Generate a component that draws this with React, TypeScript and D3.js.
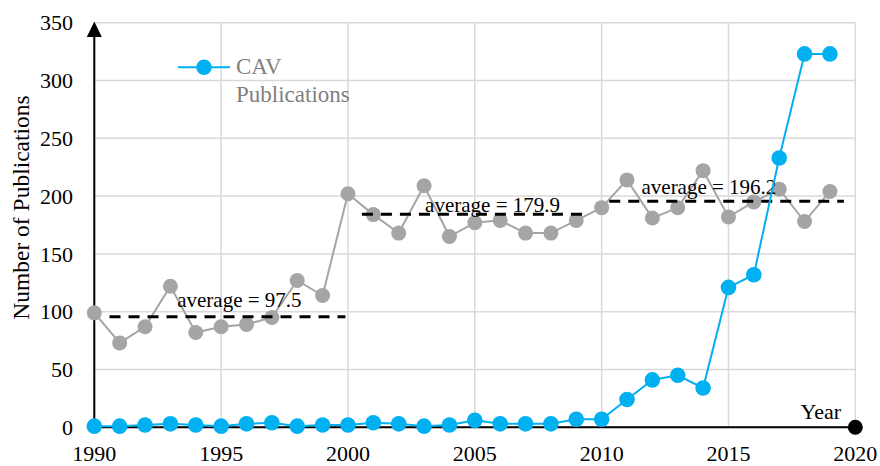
import React from "react";
import * as d3 from "d3";

const years = d3.range(1990, 2020);
const totalPubs = [99, 73, 87, 122, 82, 87, 89, 95, 127, 114, 202, 184, 168, 209, 165, 177, 179, 168, 168, 179, 190, 214, 181, 190, 222, 182, 195, 206, 178, 204];
const cavPubs = [1, 1, 2, 3, 2, 1, 3, 4, 1, 2, 2, 4, 3, 1, 2, 6, 3, 3, 3, 7, 7, 24, 41, 45, 34, 121, 132, 233, 323, 323];
const xTicks = [1990, 1995, 2000, 2005, 2010, 2015, 2020];
const yTicks = [0, 50, 100, 150, 200, 250, 300, 350];
const avgLabels = ["average = 97.5", "average = 179.9", "average = 196.2"];
const avgLevels = [95.7, 184.3, 195.5];
const avgStarts = [1990.6, 2000.55, 2010.3];
const avgEnds = [1999.9, 2009.5, 2019.55];
const avgLabelX = [1995.72, 2005.7, 2014.23];
const avgLabelY = [104.3, 186.5, 201.8];

const W = 880;
const H = 466;
const FONT = "'Liberation Serif', 'Times New Roman', serif";

export default function App() {
  const x = d3.scaleLinear().domain([1990, 2020]).range([94.3, 855.3]);
  const y = d3.scaleLinear().domain([0, 350]).range([427.3, 22.7]);
  const line = d3
    .line<number>()
    .x((_, i) => x(years[i]))
    .y((d) => y(d));

  return (
    <svg width={W} height={H} style={{ position: "absolute", left: 0, top: 0, background: "#fff", fontFamily: FONT }}>
      {/* grid */}
      {yTicks.map((t) => (
        <line key={"gy" + t} x1={x(1990)} x2={x(2020)} y1={y(t)} y2={y(t)} stroke="#d9d9d9" strokeWidth={1.5} />
      ))}
      {xTicks.map((t) => (
        <line key={"gx" + t} x1={x(t)} x2={x(t)} y1={y(0)} y2={y(350)} stroke="#d9d9d9" strokeWidth={1.5} />
      ))}
      {/* y tick labels */}
      {yTicks.map((t) => (
        <text key={"ty" + t} x={73} y={y(t)} dy="0.35em" textAnchor="end" fontSize={22} fill="#000">
          {t}
        </text>
      ))}
      {/* x tick labels */}
      {xTicks.map((t) => (
        <text key={"tx" + t} x={x(t)} y={461} textAnchor="middle" fontSize={22} fill="#000">
          {t}
        </text>
      ))}
      {/* axes */}
      <line x1={x(1990)} x2={x(1990)} y1={y(0)} y2={36} stroke="#000" strokeWidth={2} />
      <path d={`M${x(1990) - 7.5},${37} L${x(1990) + 7.5},${37} L${x(1990)},${21.5} Z`} fill="#000" />
      <line x1={x(1990)} x2={x(2020)} y1={y(0)} y2={y(0)} stroke="#000" strokeWidth={2} />
      <circle cx={x(2020)} cy={y(0)} r={7.5} fill="#000" />
      <text x={841} y={419} textAnchor="end" fontSize={22} fill="#000">
        Year
      </text>
      <text transform={`translate(29,${207.5}) rotate(-90)`} textAnchor="middle" fontSize={23.5} fill="#000">
        Number of Publications
      </text>
      {/* total series */}
      <path d={line(totalPubs) || ""} fill="none" stroke="#a5a5a5" strokeWidth={2} />
      {totalPubs.map((v, i) => (
        <circle key={"g" + i} cx={x(years[i])} cy={y(v)} r={7.5} fill="#a5a5a5" />
      ))}
      {/* averages */}
      {avgLevels.map((v, i) => (
        <line
          key={"a" + i}
          x1={x(avgStarts[i])}
          x2={x(avgEnds[i])}
          y1={y(v)}
          y2={y(v)}
          stroke="#000"
          strokeWidth={3}
          strokeDasharray="11 8"
        />
      ))}
      {avgLabels.map((s, i) => (
        <text key={"al" + i} x={x(avgLabelX[i])} y={y(avgLabelY[i])} textAnchor="middle" fontSize={21} fill="#000">
          {s}
        </text>
      ))}
      {/* CAV series */}
      <path d={line(cavPubs) || ""} fill="none" stroke="#00b0f0" strokeWidth={2} />
      {cavPubs.map((v, i) => (
        <circle key={"c" + i} cx={x(years[i])} cy={y(v)} r={7.8} fill="#00b0f0" />
      ))}
      {/* legend */}
      <line x1={178} x2={230} y1={67.3} y2={67.3} stroke="#00b0f0" strokeWidth={2} />
      <circle cx={204} cy={67.3} r={7.8} fill="#00b0f0" />
      <text x={236} y={74} fontSize={23} fill="#7f7f7f">
        CAV
      </text>
      <text x={236} y={102} fontSize={23} fill="#7f7f7f">
        Publications
      </text>
    </svg>
  );
}
